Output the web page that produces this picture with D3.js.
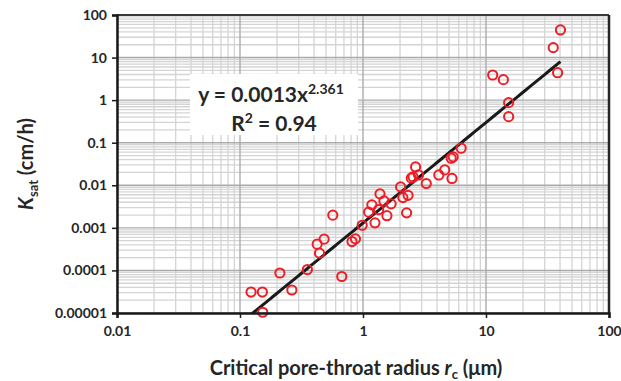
<!DOCTYPE html>
<html>
<head>
<meta charset="utf-8">
<script src="https://cdn.jsdelivr.net/npm/d3@7"></script>
<style>
  body { margin: 0; background: #ffffff; }
  svg text { font-family: Lato, "Open Sans", sans-serif; font-weight: bold; fill: #262626; }
</style>
</head>
<body>
<svg id="chart" width="621" height="381"></svg>
<script>
// critical pore-throat radius (um) and Ksat (cm/h)
const radius = [0.123, 0.152, 0.153, 0.211, 0.264, 0.353, 0.568, 0.424, 0.483, 0.443,
                0.672, 0.814, 0.868, 0.985, 1.112, 1.18, 1.251, 1.341, 1.374, 1.48,
                1.565, 1.693, 2.022, 2.11, 2.262, 2.326, 2.469, 2.554, 2.676, 2.829,
                3.268, 4.135, 4.62, 5.29, 5.21, 5.41, 6.28,
                11.33, 13.84, 15.28, 15.28, 35.2, 40.3, 38.2];
const ksat = [3.1e-5, 3.1e-5, 1.04e-5, 8.7e-5, 3.47e-5, 1.05e-4, 0.00199, 4.14e-4, 5.43e-4, 2.55e-4,
              7.2e-5, 4.77e-4, 5.52e-4, 0.00115, 0.00234, 0.00347, 0.00131, 0.00269, 0.00628, 0.0043,
              0.00193, 0.00366, 0.00917, 0.00514, 0.00225, 0.0058, 0.0147, 0.0157, 0.027, 0.0175,
              0.011, 0.0175, 0.023, 0.0145, 0.0433, 0.0464, 0.0743,
              3.9, 3.03, 0.874, 0.41, 17.1, 44.5, 4.42];

const xTickValues = [0.01, 0.1, 1, 10, 100];
const xTickLabels = ["0.01", "0.1", "1", "10", "100"];
const yTickValues = [1e-5, 1e-4, 1e-3, 1e-2, 0.1, 1, 10, 100];
const yTickLabels = ["0.00001", "0.0001", "0.001", "0.01", "0.1", "1", "10", "100"];

// power trendline
const fitA = 0.0013, fitB = 2.361;

const width = 621, height = 381;
const margin = {top: 15, right: 12, bottom: 68, left: 117};

const svg = d3.select("#chart");

let x = d3.scaleLog().domain([0.01, 100]).range([margin.left, width - margin.right]);
let y = d3.scaleLog().domain([1e-5, 100]).range([height - margin.bottom, margin.top]);

svg.append("defs").append("clipPath").attr("id", "plot-clip")
    .append("rect")
    .attr("x", x.range()[0])
    .attr("y", y.range()[1])
    .attr("width", x.range()[1] - x.range()[0])
    .attr("height", y.range()[0] - y.range()[1]);

// grid lines (minor first, then decades on top)
let xGrid = x.ticks();
let yGrid = y.ticks();
const isDecade = v => Math.abs(Math.log10(v) - Math.round(Math.log10(v))) < 1e-9;

let grid = svg.append("g");
grid.selectAll(".vminor")
    .data(xGrid.filter(v => !isDecade(v)))
    .enter().append("line")
    .attr("x1", d => x(d)).attr("x2", d => x(d))
    .attr("y1", y.range()[0]).attr("y2", y.range()[1])
    .attr("stroke", "#d4d4d4").attr("stroke-width", 1.3);
grid.selectAll(".hminor")
    .data(yGrid.filter(v => !isDecade(v)))
    .enter().append("line")
    .attr("x1", x.range()[0]).attr("x2", x.range()[1])
    .attr("y1", d => y(d)).attr("y2", d => y(d))
    .attr("stroke", "#d4d4d4").attr("stroke-width", 1.3);
grid.selectAll(".vmajor")
    .data(xGrid.filter(isDecade))
    .enter().append("line")
    .attr("x1", d => x(d)).attr("x2", d => x(d))
    .attr("y1", y.range()[0]).attr("y2", y.range()[1])
    .attr("stroke", "#ababab").attr("stroke-width", 1.4);
grid.selectAll(".hmajor")
    .data(yGrid.filter(isDecade))
    .enter().append("line")
    .attr("x1", x.range()[0]).attr("x2", x.range()[1])
    .attr("y1", d => y(d)).attr("y2", d => y(d))
    .attr("stroke", "#ababab").attr("stroke-width", 1.4);

// equation box
let box = svg.append("g");
box.append("rect")
    .attr("x", 190).attr("y", 74).attr("width", 168).attr("height", 61)
    .attr("fill", "#ffffff");
let eq = box.append("text")
    .attr("x", 271).attr("y", 102)
    .attr("text-anchor", "middle")
    .style("font-size", "21px");
eq.append("tspan").text("y = " + fitA + "x");
eq.append("tspan").attr("dy", -8).style("font-size", "14px").text(fitB);
let r2 = box.append("text")
    .attr("x", 274).attr("y", 131)
    .attr("text-anchor", "middle")
    .style("font-size", "21px");
r2.append("tspan").text("R");
r2.append("tspan").attr("dy", -8).style("font-size", "14px").text("2");
r2.append("tspan").attr("dy", 8).text(" = 0.94");

// trendline across the data range
let fitX = d3.range(0, 101).map(i => {
    let lo = Math.log10(d3.min(radius)), hi = Math.log10(d3.max(radius));
    return Math.pow(10, lo + (hi - lo) * i / 100);
});
svg.append("path")
    .datum(fitX)
    .attr("clip-path", "url(#plot-clip)")
    .attr("fill", "none")
    .attr("stroke", "#1a1a1a")
    .attr("stroke-width", 3)
    .attr("d", d3.line().x(d => x(d)).y(d => y(fitA * Math.pow(d, fitB))));

// data points
svg.selectAll(".pt")
    .data(radius.map((r, i) => [r, ksat[i]]))
    .enter().append("circle")
    .attr("cx", d => x(d[0]))
    .attr("cy", d => y(d[1]))
    .attr("r", 4.6)
    .attr("fill", "none")
    .attr("stroke", "#ee1c24")
    .attr("stroke-width", 2);

// plot frame
svg.append("line")
    .attr("x1", x.range()[0]).attr("x2", x.range()[1])
    .attr("y1", y.range()[1]).attr("y2", y.range()[1])
    .attr("stroke", "#3a3a3a").attr("stroke-width", 2);
svg.append("line")
    .attr("x1", x.range()[1]).attr("x2", x.range()[1])
    .attr("y1", y.range()[0]).attr("y2", y.range()[1])
    .attr("stroke", "#262626").attr("stroke-width", 2.5);

// axes
let xAxis = svg.append("g")
    .attr("transform", `translate(0,${y.range()[0]})`)
    .call(d3.axisBottom(x).tickValues(xTickValues).tickSize(5).tickPadding(8)
        .tickFormat((d, i) => xTickLabels[i]));
let yAxis = svg.append("g")
    .attr("transform", `translate(${x.range()[0]},0)`)
    .call(d3.axisLeft(y).tickValues(yTickValues).tickSize(5).tickPadding(5)
        .tickFormat((d, i) => yTickLabels[i]));

[xAxis, yAxis].forEach(a => {
    a.select(".domain").attr("stroke", "#1a1a1a").attr("stroke-width", 2.5);
    a.selectAll(".tick line").attr("stroke", "#1a1a1a").attr("stroke-width", 1.5);
    a.selectAll(".tick text").style("font-size", "14px").style("font-family", "Lato, sans-serif")
        .attr("fill", "#262626");
});

// axis titles
let xt = svg.append("text")
    .attr("x", (x.range()[0] + x.range()[1]) / 2 - 7).attr("y", 375)
    .attr("text-anchor", "middle")
    .style("font-size", "20px");
xt.append("tspan").text("Critical pore-throat radius ");
xt.append("tspan").style("font-style", "italic").text("r");
xt.append("tspan").attr("dy", 4).style("font-size", "13px").text("c");
xt.append("tspan").attr("dy", -4).text(" (\u03bcm)");

let yt = svg.append("text")
    .attr("transform", `translate(33,${(y.range()[0] + y.range()[1]) / 2}) rotate(-90)`)
    .attr("text-anchor", "middle")
    .style("font-size", "20px");
yt.append("tspan").style("font-style", "italic").text("K");
yt.append("tspan").attr("dy", 5).style("font-size", "13px").text("sat");
yt.append("tspan").attr("dy", -5).text(" (cm/h)");
</script>
</body>
</html>
